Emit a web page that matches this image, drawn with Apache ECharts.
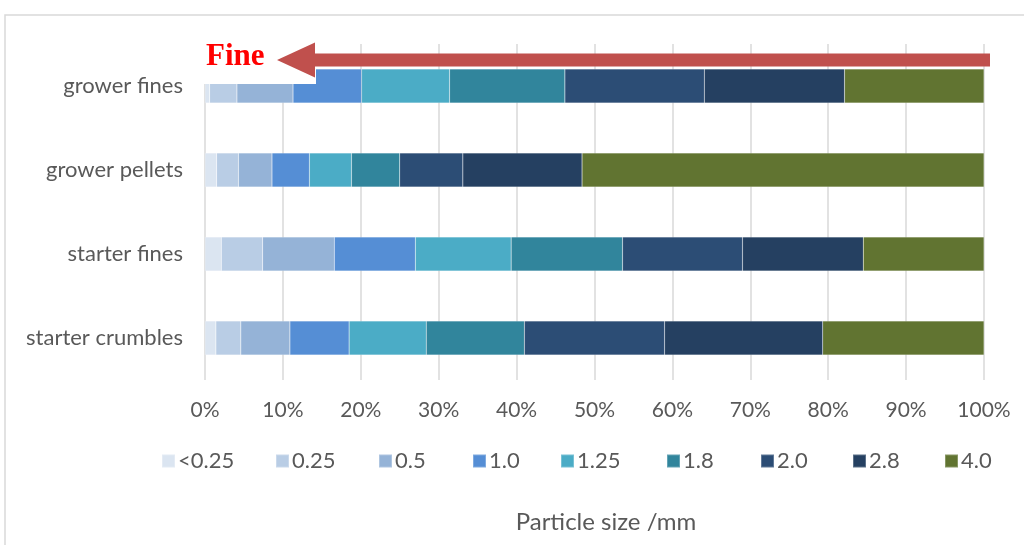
<!DOCTYPE html>
<html>
<head>
<meta charset="utf-8">
<script src="https://cdn.jsdelivr.net/npm/echarts@6/dist/echarts.min.js"></script>
<style>html,body{margin:0;padding:0;background:#fff;}#c{width:1024px;height:545px;}</style>
</head>
<body>
<div id="c"></div>
<script>
const categories = ['grower fines', 'grower pellets', 'starter fines', 'starter crumbles'];
const sizeClasses = ['<0.25', '0.25', '0.5', '1.0', '1.25', '1.8', '2.0', '2.8', '4.0'];
const colors = ['#dbe5f1', '#b9cde5', '#95b3d7', '#558ed5', '#4bacc6', '#31859c', '#2c4d75', '#254061', '#617431'];
// percentage of each size class per feed (order follows categories)
const sLt025 = [0.6, 1.5, 2.1, 1.4];
const s025 = [3.5, 2.8, 5.3, 3.2];
const s05 = [7.2, 4.3, 9.2, 6.3];
const s10 = [8.8, 4.8, 10.4, 7.6];
const s125 = [11.3, 5.4, 12.3, 9.9];
const s18 = [14.8, 6.2, 14.3, 12.6];
const s20 = [17.9, 8.1, 15.4, 18.0];
const s28 = [18.0, 15.3, 15.5, 20.3];
const s40 = [17.9, 51.6, 15.5, 20.7];
const seriesValues = [sLt025, s025, s05, s10, s125, s18, s20, s28, s40];
const xTicks = [0, 10, 20, 30, 40, 50, 60, 70, 80, 90, 100];

const FONT = 'Lato';
const TXT = '#595959';
const legendLeft = [161, 275, 378, 472, 560, 666, 760, 852, 944];

const chart = echarts.init(document.getElementById('c'), null, {renderer: 'canvas'});
chart.setOption({
  animation: false,
  color: colors,
  grid: {left: 205, right: 40, top: 44, bottom: 165, containLabel: false},
  legend: sizeClasses.map((name, i) => ({
    left: legendLeft[i], top: 450, padding: 0,
    itemWidth: 13, itemHeight: 13, itemGap: 0,
    icon: 'rect', selectedMode: false,
    textStyle: {color: TXT, fontSize: 22, fontFamily: FONT, padding: [0, 0, 0, -2]},
    data: [name]
  })),
  xAxis: {
    type: 'value', min: xTicks[0], max: xTicks[xTicks.length - 1], interval: 10,
    axisLine: {show: false}, axisTick: {show: false},
    splitLine: {show: true, lineStyle: {color: '#d9d9d9', width: 1.5}},
    axisLabel: {color: TXT, fontSize: 21, fontFamily: FONT, margin: 20, formatter: v => v + '%'}
  },
  yAxis: {
    type: 'category', data: categories, inverse: true,
    axisLine: {show: false}, axisTick: {show: false},
    axisLabel: {color: TXT, fontSize: 22, fontFamily: FONT, margin: 22}
  },
  series: sizeClasses.map((name, i) => ({
    name: name, type: 'bar', stack: 'total', barWidth: 34,
    data: seriesValues[i],
    itemStyle: {color: colors[i], borderColor: 'rgba(255,255,255,0.25)', borderWidth: 0.5},
    emphasis: {disabled: true}
  })),
  graphic: [
    {type: 'rect', silent: true, z: 0, shape: {x: 5, y: 15, width: 1040, height: 560}, style: {fill: 'none', stroke: '#d9d9d9', lineWidth: 1.5}},
    {type: 'rect', silent: true, z: 100, shape: {x: 200, y: 42, width: 116, height: 42}, style: {fill: '#ffffff'}},
    {type: 'polygon', silent: true, z: 101, shape: {points: [[277, 60], [315, 42.5], [315, 53.5], [990, 53.5], [990, 66.5], [315, 66.5], [315, 77.5]]}, style: {fill: '#c0504d'}},
    {type: 'text', silent: true, z: 102, x: 206, y: 57, style: {text: 'Fine', fill: '#ff0000', font: 'bold 31px "Liberation Serif"', verticalAlign: 'middle'}},
    {type: 'text', silent: true, z: 102, x: 606, y: 522, style: {text: 'Particle size /mm', fill: TXT, font: '24px ' + FONT, align: 'center', verticalAlign: 'middle'}}
  ]
});
</script>
</body>
</html>
